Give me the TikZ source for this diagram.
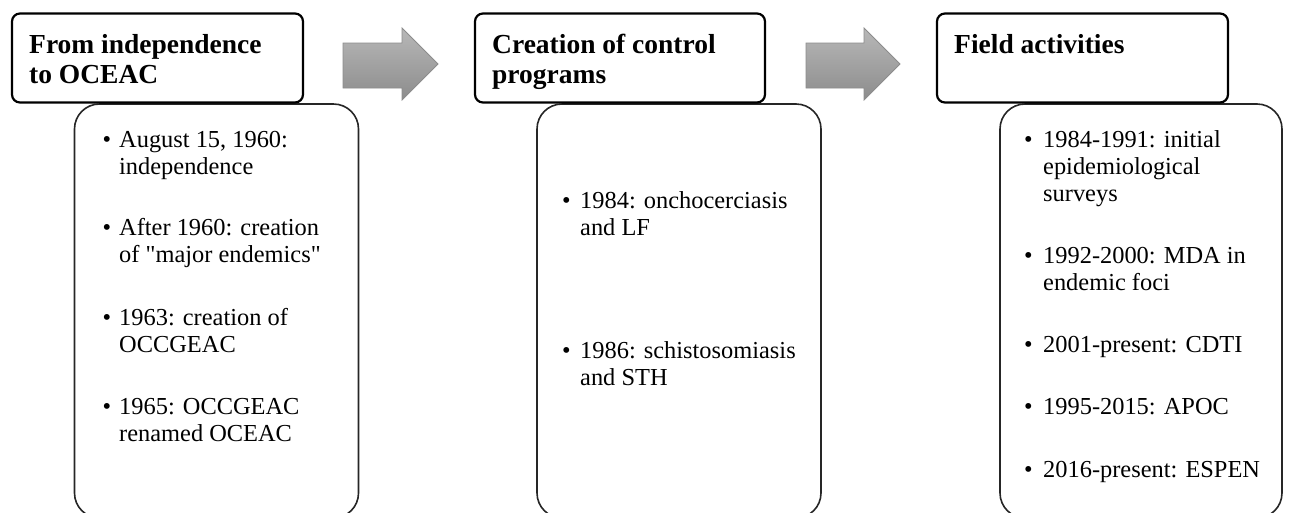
\documentclass[tikz,border=0pt]{standalone}
\usepackage{fontspec}
\setmainfont{Liberation Serif}
\begin{document}
\begin{tikzpicture}[x=1pt,y=-1pt,
  hbox/.style={draw=black,line width=2.2pt,rounded corners=8pt,fill=white,inner sep=0pt},
  lbox/.style={draw=black!85,line width=1.6pt,rounded corners=25pt,fill=white,inner sep=0pt},
  htext/.style={anchor=base west,inner sep=0pt,font=\fontsize{27.5}{27.5}\selectfont\bfseries},
  btext/.style={anchor=base west,inner sep=0pt,font=\fontsize{24.4}{27}\selectfont},
  blockarrow/.style={draw=black!45,line width=0.8pt,top color=black!28,bottom color=black!45}]
\useasboundingbox (0,0) rectangle (1290,512);
\clip (0,0) rectangle (1290,512);
% lower boxes
\node[lbox,minimum width=284pt,minimum height=414pt] (b1) at (216.5,311) {};
\node[lbox,minimum width=284pt,minimum height=414pt] (b2) at (679,311) {};
\node[lbox,minimum width=282pt,minimum height=414pt] (b3) at (1141,311) {};
% header boxes
\node[hbox,minimum width=291pt,minimum height=89pt] (h1) at (157.5,58) {};
\node[hbox,minimum width=290pt,minimum height=89pt] (h2) at (620,58) {};
\node[hbox,minimum width=291pt,minimum height=89pt] (h3) at (1082.5,58) {};
% block arrows
\shade[blockarrow] (343,43) -- (402,43) -- (402,28) -- (438,64) -- (402,100) -- (402,88) -- (343,88) -- cycle;
\shade[blockarrow] (806,43) -- (864,43) -- (864,28) -- (900,64) -- (864,100) -- (864,88) -- (806,88) -- cycle;
% header texts
\node[htext] (h1a) at (29,53) {From independence};
\node[htext] (h1b) at (29,83) {to OCEAC};
\node[htext] (h2a) at (492,53) {Creation of control};
\node[htext] (h2b) at (492,83) {programs};
\node[htext] (h3a) at (954,53) {Field activities};
% box 1 items
\node[btext] (p1) at (102.5,147) {•};
\node[btext] (t1a) at (119,147) {August 15, 1960:};
\node[btext] (t1b) at (119,174) {independence};
\node[btext] (p2) at (102.5,235) {•};
\node[btext] (t2a) at (119,235) {After 1960: creation};
\node[btext] (t2b) at (119,262) {of \textquotedbl major endemics\textquotedbl};
\node[btext] (p3) at (102.5,325) {•};
\node[btext] (t3a) at (119,325) {1963: creation of};
\node[btext] (t3b) at (119,352) {OCCGEAC};
\node[btext] (p4) at (102.5,414) {•};
\node[btext] (t4a) at (119,414) {1965: OCCGEAC};
\node[btext] (t4b) at (119,441) {renamed OCEAC};
% box 2 items
\node[btext] (q1) at (562,208) {•};
\node[btext] (u1a) at (580,208) {1984: onchocerciasis};
\node[btext] (u1b) at (580,235) {and LF};
\node[btext] (q2) at (562,358) {•};
\node[btext] (u2a) at (580,358) {1986: schistosomiasis};
\node[btext] (u2b) at (580,385) {and STH};
% box 3 items
\node[btext] (r1) at (1024,147) {•};
\node[btext] (v1a) at (1043,147) {1984-1991: initial};
\node[btext] (v1b) at (1043,174) {epidemiological};
\node[btext] (v1c) at (1043,201) {surveys};
\node[btext] (r2) at (1024,263) {•};
\node[btext] (v2a) at (1043,263) {1992-2000: MDA in};
\node[btext] (v2b) at (1043,290) {endemic foci};
\node[btext] (r3) at (1024,352) {•};
\node[btext] (v3a) at (1043,352) {2001-present: CDTI};
\node[btext] (r4) at (1024,414) {•};
\node[btext] (v4a) at (1043,414) {1995-2015: APOC};
\node[btext] (r5) at (1024,477) {•};
\node[btext] (v5a) at (1043,477) {2016-present: ESPEN};
\end{tikzpicture}
\end{document}
